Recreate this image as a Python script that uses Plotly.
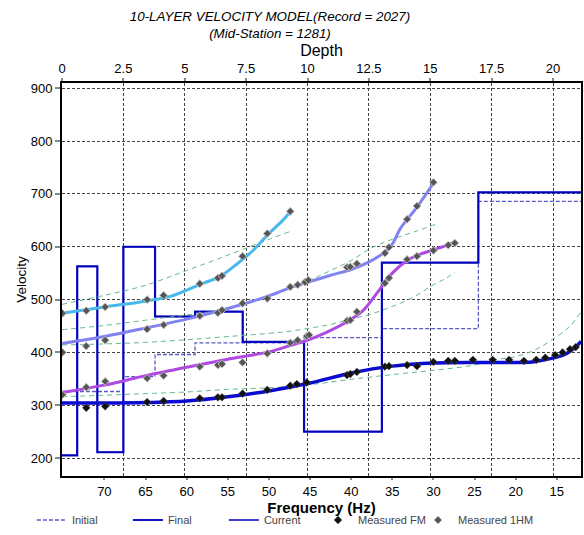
import plotly.graph_objects as go

# ---------------- data ----------------
# Layer models (velocity vs depth), step at top of each layer
LAYER_TOP_DEPTH = [0, 0.62, 1.44, 2.5, 3.79, 5.42, 7.36, 9.86, 13.03, 16.96, 21.2]
FINAL_VEL = [205, 563, 211, 600, 468, 477, 420, 250, 570, 703, 703]
CURRENT_VEL = [205, 563, 211, 600, 468, 477, 420, 250, 570, 703, 703]
INITIAL_VEL = [326, 326, 326, 354, 396, 418, 418, 428, 445, 686, 686]

# Theoretical dispersion curves of final model (velocity vs frequency)
M0_FREQ = [75.15, 70, 65, 60, 55, 50, 45, 40, 35, 30, 25, 20, 18, 16.5, 15, 13.8, 12.8, 12.06]
M0_VEL = [304, 304, 305, 308, 316, 327, 342, 361, 374, 380, 381, 381, 382, 386, 391, 398, 409, 421]
M1_FREQ = [75.15, 70, 65, 60, 55, 50, 47, 45.5, 43, 40.5, 38.5, 36.3, 35, 33.2, 31.6, 30, 28.5, 27.4]
M1_VEL = [324, 338, 356, 372, 387, 401, 415, 422, 438, 458, 480, 524, 550, 574, 586, 594, 602, 609]
M2_FREQ = [75.15, 70, 65, 60, 55, 50, 47.5, 45, 42.5, 40, 38, 36, 35, 34, 32, 29.8]
M2_VEL = [417, 430, 446, 463, 483, 507, 522, 534, 546, 557, 570, 589, 605, 635, 675, 725]
M3_FREQ = [75.15, 70, 65, 62, 60, 58, 56, 54, 52, 50, 48.5, 47.4]
M3_VEL = [474, 486, 497, 506, 518, 531, 543, 566, 592, 625, 647, 666]

# Dispersion curves of initial model (green dashed)
I0_FREQ = [75.15, 70, 65, 60, 55, 50, 45, 40, 35, 30, 25, 22.5, 20, 17.5, 15, 13.5, 12.1]
I0_VEL = [316, 319, 322, 325, 330, 333, 339, 349, 358, 366, 376, 386, 392, 406, 430, 448, 476]
I1_FREQ = [75.15, 70, 65, 60, 55, 50, 47.5, 45, 42.5, 40, 37.5, 35, 32.5, 30, 28.5, 27.4]
I1_VEL = [414, 416, 419, 424, 430, 436, 440, 446, 453, 463, 473, 487, 504, 528, 540, 552]
I2_FREQ = [75.15, 70, 65, 60, 55.6, 50, 45, 42.5, 40, 37.5, 35, 32, 29.8]
I2_VEL = [443, 451, 461, 471, 481, 505, 537, 555, 574, 598, 614, 630, 642]
I3_FREQ = [75.15, 70, 65, 60, 55, 50, 47.4]
I3_VEL = [491, 508, 527, 555, 584, 614, 629]

# Measured points
FM_FREQ = [72.2, 69.9, 64.8, 62.8, 58.4, 56.2, 55.7, 53.2, 50.2, 47.4, 46.6, 45.4,
           40.5, 40.1, 39.3, 35.9, 35.4, 33.2, 32.0, 30.0, 28.2, 27.4, 25.2, 22.8,
           20.8, 19.0, 17.5, 16.4, 15.2, 14.3, 13.4, 12.7]
FM_VEL = [295, 298, 306, 308, 313, 315, 315, 322, 329, 337, 340, 343,
          357, 359, 363, 373, 374, 376, 374, 382, 384, 384, 386, 386,
          386, 384, 386, 390, 395, 400, 406, 410]
HM1_FREQ = [75.1, 72.2, 69.9, 64.8, 62.8, 58.4, 56.2, 55.7, 53.2, 50.2, 47.4, 46.5,
            45.4, 45.1, 40.5, 40.1, 39.3, 35.9, 35.4, 33.2, 32.0, 30.0, 28.2, 27.4,
            75.1, 72.2, 69.9, 64.8, 62.8, 58.4, 56.2, 55.7, 53.2, 50.2, 47.4, 46.5,
            45.6, 45.2, 40.5, 40.1, 39.3, 35.9, 35.4, 33.2, 32.0, 30.0,
            75.1, 72.2, 69.9, 64.8, 62.8, 58.4, 56.2, 55.7, 53.2, 50.2, 47.4]
HM1_VEL = [320, 334, 345, 351, 356, 373, 376, 378, 381, 398, 418, 423,
           431, 433, 460, 461, 477, 531, 541, 576, 582, 593, 603, 607,
           400, 412, 423, 444, 452, 469, 475, 480, 493, 502, 524, 528,
           533, 537, 561, 562, 568, 588, 599, 652, 677, 722,
           474, 479, 486, 500, 508, 530, 541, 545, 582, 625, 667]

DEPTH_TICKS = [0, 2.5, 5, 7.5, 10, 12.5, 15, 17.5, 20]
FREQ_TICKS = [70, 65, 60, 55, 50, 45, 40, 35, 30, 25, 20, 15]
VEL_TICKS = [200, 300, 400, 500, 600, 700, 800, 900]

FONT = "Liberation Sans, Arial, sans-serif"

fig = go.Figure()

# initial-model dispersion curves (green dashed)
for fx, vy in [(I0_FREQ, I0_VEL), (I1_FREQ, I1_VEL), (I2_FREQ, I2_VEL), (I3_FREQ, I3_VEL)]:
    fig.add_trace(go.Scatter(x=fx, y=vy, xaxis="x2", mode="lines", showlegend=False,
                             line=dict(color="#62B98C", width=1, dash="5px,4px", shape="spline"),
                             hoverinfo="skip"))

# layer models (depth axis)
fig.add_trace(go.Scatter(x=LAYER_TOP_DEPTH, y=INITIAL_VEL, xaxis="x", mode="lines", name="Initial",
                         legend="legend",
                         line=dict(color="#5A5AC8", width=1.3, dash="4px,2px", shape="hv")))
fig.add_trace(go.Scatter(x=LAYER_TOP_DEPTH, y=FINAL_VEL, xaxis="x", mode="lines", name="Final",
                         legend="legend",
                         line=dict(color="#1515C8", width=2.2, shape="hv")))
fig.add_trace(go.Scatter(x=LAYER_TOP_DEPTH, y=CURRENT_VEL, xaxis="x", mode="lines", name="Current",
                         legend="legend",
                         line=dict(color="#0000B8", width=1.3, shape="hv")))

# final-model dispersion curves
for fx, vy, col, w in [(M0_FREQ, M0_VEL, "#0A0AD0", 3.5), (M1_FREQ, M1_VEL, "#B048E4", 3),
                       (M2_FREQ, M2_VEL, "#8282F0", 3), (M3_FREQ, M3_VEL, "#48B8EC", 3)]:
    fig.add_trace(go.Scatter(x=fx, y=vy, xaxis="x2", mode="lines", showlegend=False,
                             line=dict(color=col, width=w, shape="spline", smoothing=0.8),
                             hoverinfo="skip"))

# measured points
fig.add_trace(go.Scatter(x=FM_FREQ, y=FM_VEL, xaxis="x2", mode="markers", name="Measured FM",
                         legend="legend2",
                         marker=dict(symbol="diamond", size=6, color="#111111",
                                     line=dict(color="#555555", width=0.5))))
fig.add_trace(go.Scatter(x=HM1_FREQ, y=HM1_VEL, xaxis="x2", mode="markers", name="Measured 1HM",
                         legend="legend3",
                         marker=dict(symbol="diamond", size=6, color="#555555",
                                     line=dict(color="#BBBBBB", width=1))))

grid = dict(showgrid=True, gridcolor="#444444", gridwidth=1, griddash="3px,2px")
leg_common = dict(orientation="h", xanchor="left", y=-0.112, yanchor="middle",
                  font=dict(size=11, color="#444444"), bgcolor="rgba(0,0,0,0)", itemwidth=30)

fig.update_layout(
    width=584, height=535,
    margin=dict(l=62, r=3, t=83, b=59, autoexpand=False),
    paper_bgcolor="white", plot_bgcolor="white",
    font=dict(family=FONT, size=13, color="black"),
    title=dict(text="<i>10-LAYER VELOCITY MODEL(Record = 2027)<br>(Mid-Station = 1281)</i>",
               x=270 / 584, xanchor="center", xref="container",
               y=1 - 21 / 535, yanchor="top", yref="container",
               font=dict(family=FONT, size=13.4, color="black")),
    xaxis=dict(side="top", range=[0, 21.14], tickvals=DEPTH_TICKS,
               ticktext=[("%g" % t) for t in DEPTH_TICKS],
               ticks="outside", ticklen=3, tickwidth=2, tickcolor="#888888",
               showline=True, linecolor="black", linewidth=2, zeroline=False,
               title=dict(text="Depth", font=dict(size=16), standoff=0),
               tickfont=dict(size=13), **grid),
    xaxis2=dict(overlaying="x", side="bottom", range=[75.15, 12.06], tickvals=FREQ_TICKS,
                ticks="outside", ticklen=2, tickwidth=2, tickcolor="#888888",
                showline=True, linecolor="black", linewidth=2, zeroline=False, showgrid=False,
                title=dict(text="<b>Frequency (Hz)</b>", font=dict(size=15), standoff=0),
                tickfont=dict(size=13)),
    yaxis=dict(range=[166, 910], tickvals=VEL_TICKS,
               ticks="outside", ticklen=5, tickwidth=2, tickcolor="#888888",
               showline=True, linecolor="black", linewidth=2, mirror=True, zeroline=False,
               title=dict(text="Velocity", font=dict(size=13.5), standoff=1),
               tickfont=dict(size=13), **grid),
    legend=dict(x=-0.058, entrywidth=51, entrywidthmode="pixels", **leg_common),
    legend2=dict(x=(318 - 62) / 519, **leg_common),
    legend3=dict(x=(418 - 62) / 519, **leg_common),
    showlegend=True,
)

fig.write_html("out.html", config={"displayModeBar": False},
               post_script="document.body.style.margin='0px';")
